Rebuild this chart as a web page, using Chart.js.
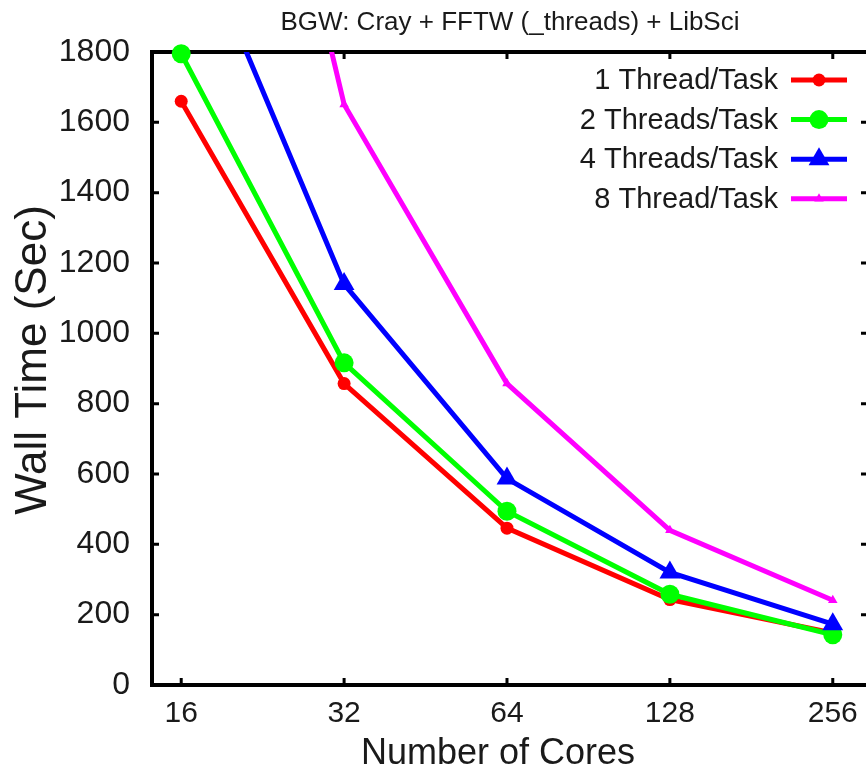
<!DOCTYPE html>
<html lang="en">
<head>
<meta charset="UTF-8">
<title>BGW wall time</title>
<script src="https://cdn.jsdelivr.net/npm/chart.js@4"></script>
<style>
  html, body { margin: 0; padding: 0; background: #fff; overflow: hidden; }
</style>
</head>
<body>
<canvas id="myChart" width="870" height="776"></canvas>
<script>
// wall time (sec) against number of cores, one list per threads-per-task run
const cores = [16, 32, 64, 128, 256];
const oneThread = [1660, 857, 446, 243, 148];
const twoThreads = [1795, 916, 494, 258, 143];
const fourThreads = [2240, 1140, 587, 320, 173];
const eightThreads = [3600, 1651, 857, 440, 241];
const seriesLabels = ['1 Thread/Task', '2 Threads/Task', '4 Threads/Task', '8 Thread/Task'];

const FONT = "'Liberation Sans', Arial, sans-serif";
const TEXT = '#1a1a1a';

function pts(vals) {
    return cores.map((c, i) => ({ x: c, y: vals[i] }));
}

function series(label, vals, color, style, radius, order, clip) {
    return {
        label: label,
        data: pts(vals),
        borderColor: color,
        backgroundColor: color,
        borderWidth: 5,
        pointStyle: style,
        pointRadius: radius,
        pointBorderWidth: 0,
        pointBackgroundColor: color,
        tension: 0,
        order: order,
        clip: clip
    };
}

// black frame with inward ticks on all four sides (gnuplot style), plus axis labels
const framePlugin = {
    id: 'frame',
    beforeDatasetsDraw(chart) {
        const { ctx, chartArea: a, scales } = chart;
        const tl = 7;
        ctx.save();
        ctx.strokeStyle = '#000';
        ctx.lineWidth = 3;
        ctx.beginPath();
        scales.x.ticks.forEach(t => {
            const px = scales.x.getPixelForValue(t.value);
            ctx.moveTo(px, a.bottom); ctx.lineTo(px, a.bottom - tl);
            ctx.moveTo(px, a.top); ctx.lineTo(px, a.top + tl);
        });
        scales.y.ticks.forEach(t => {
            const py = scales.y.getPixelForValue(t.value);
            ctx.moveTo(a.left, py); ctx.lineTo(a.left + tl, py);
            ctx.moveTo(a.right, py); ctx.lineTo(a.right - tl, py);
        });
        ctx.stroke();
        ctx.lineWidth = 4;
        ctx.strokeRect(a.left, a.top, a.right - a.left, a.bottom - a.top);

        ctx.fillStyle = TEXT;
        ctx.textAlign = 'center';
        ctx.textBaseline = 'middle';
        ctx.font = '36px ' + FONT;
        ctx.fillText('Number of Cores', 498, 754);

        ctx.font = '44px ' + FONT;
        ctx.translate(34, 360);
        ctx.rotate(-Math.PI / 2);
        ctx.fillText('Wall Time (Sec)', 0, 0);
        ctx.restore();
    }
};

// key in the top right corner: label on the left, line sample on the right
const keyPlugin = {
    id: 'key',
    afterDatasetsDraw(chart) {
        const ctx = chart.ctx;
        ctx.save();
        ctx.font = '29px ' + FONT;
        ctx.textAlign = 'right';
        ctx.textBaseline = 'middle';
        chart.data.datasets.forEach((ds, i) => {
            const y = 80 + i * 39.6;
            ctx.fillStyle = TEXT;
            ctx.fillText(ds.label, 778, y + 1);
            ctx.strokeStyle = ds.borderColor;
            ctx.lineWidth = ds.borderWidth;
            ctx.beginPath();
            ctx.moveTo(791, y);
            ctx.lineTo(847, y);
            ctx.stroke();
            ctx.fillStyle = ds.backgroundColor;
            Chart.helpers.drawPoint(ctx, {
                pointStyle: ds.pointStyle, radius: ds.pointRadius, rotation: 0, borderWidth: 0
            }, 819, y);
        });
        ctx.restore();
    }
};

new Chart(document.getElementById('myChart'), {
    type: 'line',
    data: {
        datasets: [
            series(seriesLabels[0], oneThread, '#ff0000', 'circle', 6.5, 4, false),
            series(seriesLabels[1], twoThreads, '#00ff00', 'circle', 9.5, 3, false),
            series(seriesLabels[2], fourThreads, '#0000ff', 'triangle', 12, 2, 0),
            series(seriesLabels[3], eightThreads, '#ff00ff', 'triangle', 5.5, 1, 0)
        ]
    },
    options: {
        responsive: false,
        animation: false,
        events: [],
        layout: { padding: { left: 0, right: 2, top: 0, bottom: 0 }, autoPadding: false },
        plugins: {
            legend: { display: false },
            tooltip: { enabled: false },
            title: {
                display: true,
                fullSize: false,
                text: 'BGW: Cray + FFTW (_threads) + LibSci',
                color: TEXT,
                font: { family: FONT, size: 26, weight: 'normal' },
                padding: { top: 7, bottom: 13.8 }
            }
        },
        scales: {
            x: {
                type: 'logarithmic',
                min: 14.13,
                max: 297.4,
                afterBuildTicks: s => { s.ticks = cores.map(v => ({ value: v })); },
                afterFit: s => { s.height = 91; },
                grid: { display: false },
                border: { display: false },
                ticks: {
                    color: TEXT,
                    font: { family: FONT, size: 30 },
                    padding: 3,
                    autoSkip: false,
                    maxRotation: 0,
                    callback: v => String(v)
                }
            },
            y: {
                min: 0,
                max: 1800,
                afterFit: s => { s.width = 152; },
                grid: { display: false },
                border: { display: false },
                ticks: {
                    stepSize: 200,
                    color: TEXT,
                    font: { family: FONT, size: 32 },
                    padding: 14,
                    callback: v => String(v)
                }
            }
        }
    },
    plugins: [framePlugin, keyPlugin]
});
</script>
</body>
</html>
